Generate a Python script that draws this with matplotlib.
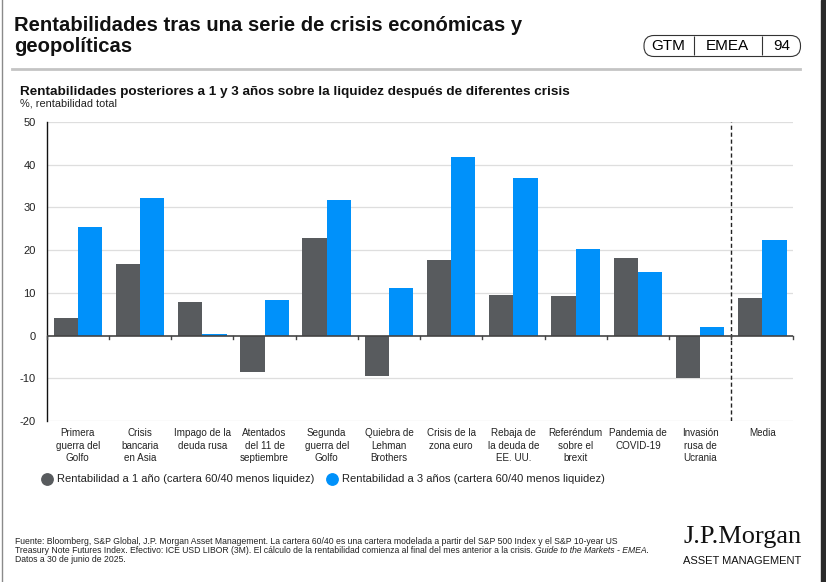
import matplotlib
matplotlib.use("Agg")
import matplotlib.pyplot as plt
from matplotlib.patches import FancyBboxPatch, Rectangle
from matplotlib.lines import Line2D
import numpy as np

plt.rcParams['font.family'] = ['Liberation Sans', 'DejaVu Sans']

# --- Data ---
categories = [
    "Primera\nguerra del\nGolfo", "Crisis\nbancaria\nen Asia", "Impago de la\ndeuda rusa",
    "Atentados\ndel 11 de\nseptiembre", "Segunda\nguerra del\nGolfo", "Quiebra de\nLehman\nBrothers",
    "Crisis de la\nzona euro", "Rebaja de\nla deuda de\nEE. UU.", "Referéndum\nsobre el\nbrexit",
    "Pandemia de\nCOVID-19", "Invasión\nrusa de\nUcrania", "Media",
]
ret_1y = [4.1, 16.7, 7.8, -8.6, 22.9, -9.4, 17.7, 9.5, 9.2, 18.1, -10.0, 8.8]
ret_3y = [25.4, 32.3, 0.3, 8.4, 31.7, 11.2, 41.7, 36.8, 20.2, 15.0, 2.1, 22.3]
yticks = [-20, -10, 0, 10, 20, 30, 40, 50]
label_1y = "Rentabilidad a 1 año (cartera 60/40 menos liquidez)"
label_3y = "Rentabilidad a 3 años (cartera 60/40 menos liquidez)"

GRAY = "#585b5e"
BLUE = "#0091fa"

W, H = 826, 582
fig = plt.figure(figsize=(W / 100, H / 100), dpi=100)


def T(x, y, s, **kw):
    # place text using pixel coordinates from the top-left corner
    return fig.text(x / W, 1 - y / H, s, **kw)


# --- Header ---
T(14, 31, "Rentabilidades tras una serie de crisis económicas y", fontsize=14.6, fontweight='bold',
  va='baseline', color='#111111')
T(14, 52.5, "geopolíticas", fontsize=14.6, fontweight='bold', va='baseline', color='#111111')

# GTM badge (pill shape, drawn in inches so corners stay round)
bx0, bx1, by0, by1 = 644, 800.5, 35.5, 56.5
fig.patches.append(FancyBboxPatch((bx0 / 100, (H - by1) / 100), (bx1 - bx0) / 100, (by1 - by0) / 100,
                                  boxstyle="round,pad=0,rounding_size=0.1",
                                  transform=fig.dpi_scale_trans, fill=False, ec='#333333', lw=0.8))
for dx in (693.5, 761.5):
    fig.add_artist(Line2D([dx / W, dx / W], [1 - (by0 + 0.5) / H, 1 - (by1 - 1.5) / H],
                          color='#333333', lw=0.8, solid_capstyle='butt'))
T(668.5, 46.5, "GTM", fontsize=11, ha='center', va='center')
T(727.5, 46.5, "EMEA", fontsize=11, ha='center', va='center')
T(782, 46.5, "94", fontsize=11, ha='center', va='center')

# grey rule under header
fig.add_artist(Line2D([12 / W, 800 / W], [1 - 69 / H, 1 - 69 / H], color='#c4c4c4', lw=2))

T(20, 95, "Rentabilidades posteriores a 1 y 3 años sobre la liquidez después de diferentes crisis",
  fontsize=9.7, fontweight='bold', va='baseline', color='#111111')
T(20, 106, "%, rentabilidad total", fontsize=7.9, va='baseline', color='#222222')

# --- Chart ---
ax_l, ax_r, ax_t, ax_b = 46.7, 793.5, 122, 421
ax = fig.add_axes([ax_l / W, 1 - ax_b / H, (ax_r - ax_l) / W, (ax_b - ax_t) / H])

x = np.arange(len(categories))
w = 0.39
ax.bar(x - w / 2, ret_1y, width=w, color=GRAY, zorder=3)
ax.bar(x + w / 2, ret_3y, width=w, color=BLUE, zorder=3)

ax.set_xlim(-0.5, len(categories) - 0.5)
ax.set_ylim(-20, 50)
ax.set_yticks(yticks)
ax.set_yticklabels([str(v) for v in yticks], fontsize=8, color='#222222')
ax.tick_params(axis='y', length=0, pad=8)
ax.set_xticks([])
for v in yticks:
    if v != 0:
        ax.axhline(v, color='#dedede', lw=0.9, zorder=1)
ax.axhline(0, color='#444444', lw=1.2, zorder=4)
# small tick marks on the zero line at category boundaries
for b in np.arange(-0.5, len(categories), 1.0):
    ax.plot([b, b], [0, -0.8], color='#444444', lw=1.0, zorder=4, clip_on=False)
ax.axvline(len(categories) - 1.5, color='#222222', lw=1.0, ls=(0, (3, 2)), zorder=2)

for s in ('top', 'right', 'bottom'):
    ax.spines[s].set_visible(False)
ax.spines['left'].set_color('#111111')
ax.spines['left'].set_linewidth(1.0)

# category labels
for i, lab in enumerate(categories):
    ax.text(i, -21.7, lab, ha='center', va='top', fontsize=7.1, linespacing=1.3,
            color='#222222', transform=ax.transData, clip_on=False)

# --- Legend ---
fig.add_artist(Line2D([46.5 / W], [1 - 478.5 / H], marker='o', ms=8.2, color=GRAY, mec=GRAY))
T(57, 479, label_1y, fontsize=8, va='center', color='#222222')
fig.add_artist(Line2D([332 / W], [1 - 478.5 / H], marker='o', ms=8.2, color=BLUE, mec=BLUE))
T(342, 479, label_3y, fontsize=8, va='center', color='#222222')

# --- Footnote ---
fn = dict(fontsize=6.25, va='center', color='#222222')
T(15, 541, "Fuente: Bloomberg, S&P Global, J.P. Morgan Asset Management. La cartera 60/40 es una cartera "
  "modelada a partir del S&P 500 Index y el S&P 10-year US", **fn)
t2 = T(15, 550.5, "Treasury Note Futures Index. Efectivo: ICE USD LIBOR (3M). El cálculo de la rentabilidad "
       "comienza al final del mes anterior a la crisis. ", **fn)
fig.canvas.draw()
bb = t2.get_window_extent()
fig.text(bb.x1 / W, 1 - 550.5 / H, "Guide to the Markets - EMEA.", style='italic', **fn)
T(15, 560, "Datos a 30 de junio de 2025.", **fn)

# logo
T(683, 543, "J.P.Morgan", fontsize=19, family='Liberation Serif', va='baseline', color='#111111')
T(683, 560.5, "ASSET MANAGEMENT", fontsize=8, va='center', color='#111111')

# page edges as in the screenshot
fig.add_artist(Line2D([2 / W, 2 / W], [0, 1], color='#8a8a8a', lw=1))
fig.patches.append(Rectangle((821 / W, 0), 5 / W, 1, transform=fig.transFigure,
                             color='#2a2a2a', zorder=10))

fig.savefig("out.png", dpi=100)
